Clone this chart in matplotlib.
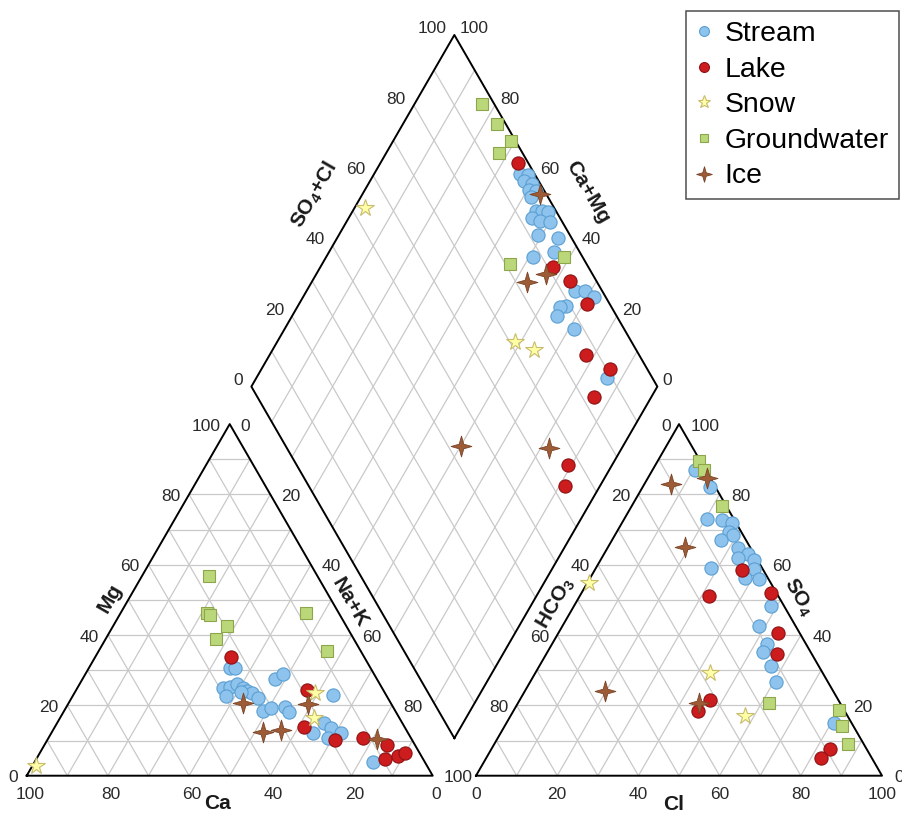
import numpy as np
import matplotlib.pyplot as plt
from matplotlib.path import Path
from matplotlib.lines import Line2D

plt.rcParams['font.family'] = ['Liberation Sans', 'DejaVu Sans']
plt.rcParams['mathtext.fontset'] = 'custom'
plt.rcParams['mathtext.rm'] = 'Liberation Sans'
plt.rcParams['mathtext.bf'] = 'Liberation Sans:bold'

# ---- data (percent) ----
# cation triangle: Ca, Mg (Na+K = rest)
stream_ca = [34.5, 33.4, 39.1, 37.2, 35.3, 34.2, 33.8, 32.7, 32.0, 39.6, 35.3, 25.2,
             22.4, 32.7, 30.2, 26.6, 26.4, 13.0, 19.4, 18.1, 16.6, 23.4, 12.6, 20.4]
stream_mg = [30.7, 30.5, 25.0, 25.3, 26.0, 24.9, 24.1, 23.4, 22.2, 22.8, 23.9, 27.5,
             28.8, 18.4, 19.2, 19.6, 18.0, 23.0, 14.9, 13.7, 12.1, 12.1, 4.0, 10.6]
lake_ca = [32.9, 18.7, 24.7, 19.0, 11.9, 6.9, 9.5, 5.6, 3.5]
lake_mg = [33.8, 24.5, 13.9, 10.1, 10.6, 8.7, 4.7, 5.7, 6.4]
snow_ca = [96.3, 17.1, 21.1]
snow_mg = [2.8, 23.6, 16.3]
gw_ca = [26.7, 32.4, 31.9, 29.2, 34.0, 8.2, 8.4]
gw_mg = [56.8, 46.4, 45.7, 42.7, 38.8, 46.2, 35.5]
ice_ca = [36.4, 35.6, 30.8, 20.5, 8.5]
ice_mg = [20.6, 12.3, 13.0, 20.4, 10.3]

# anion triangle: Cl, SO4 (HCO3 = rest)
stream_cl = [10.4, 16.6, 20.4, 24.4, 27.1, 27.7, 29.0, 26.8, 32.0, 35.4, 33.6, 37.7,
             38.9, 38.1, 41.7, 28.3, 48.4, 48.3, 53.0, 53.1, 57.1, 60.7, 80.6]
stream_so4 = [86.9, 82.0, 73.1, 72.6, 71.9, 69.3, 68.4, 67.0, 64.9, 63.0, 62.0, 61.3,
              58.9, 56.3, 56.0, 59.2, 48.4, 42.7, 37.5, 35.1, 31.3, 26.6, 14.9]
lake_cl = [36.4, 31.8, 46.6, 54.2, 56.9, 46.9, 45.5, 83.5, 82.4]
lake_so4 = [58.4, 51.1, 51.9, 40.6, 34.7, 21.4, 18.5, 7.6, 5.0]
snow_cl = [0.4, 43.0, 57.8]
snow_so4 = [54.8, 29.2, 17.1]
gw_cl = [10.1, 12.6, 22.3, 61.9, 80.1, 83.1, 87.2]
gw_so4 = [89.5, 86.9, 76.6, 20.6, 18.7, 14.2, 9.0]
ice_cl = [14.6, 6.5, 18.8, 19.6, 44.5]
ice_so4 = [84.8, 82.9, 65.1, 24.2, 20.6]

# diamond: SO4+Cl, Ca+Mg
stream_an = [96.4, 98.3, 96.4, 98.0, 96.3, 97.8, 95.7, 94.9, 96.5, 97.9, 93.1, 94.8, 97.0,
             92.2, 96.8, 93.7, 87.7, 93.4, 95.8, 97.2, 89.0, 87.2, 85.3, 87.5, 88.7]
stream_cat = [64.2, 61.9, 62.1, 59.7, 59.6, 57.8, 58.1, 54.9, 53.3, 51.7, 54.8, 52.4, 49.7,
              50.9, 45.5, 44.7, 49.1, 33.8, 31.4, 28.2, 34.0, 35.4, 34.7, 28.8, 13.7]
lake_an = [97.5, 91.2, 93.5, 94.3, 87.0, 90.8, 83.0, 67.0, 63.0]
lake_cat = [66.0, 42.7, 36.4, 29.1, 22.0, 14.1, 14.0, 10.8, 8.7]
snow_an = [53.4, 71.2, 74.8]
snow_cat = [97.5, 41.5, 35.6]
gw_an = [96.9, 97.8, 98.8, 94.3, 81.1, 95.3]
gw_cat = [83.5, 76.9, 71.0, 72.2, 53.7, 41.5]
ice_an = [98.6, 82.8, 88.4, 43.2, 64.4]
ice_cat = [56.2, 46.9, 43.5, 39.9, 18.0]

ticks = [0, 20, 40, 60, 80, 100]

H = np.sqrt(3) / 2
G = 0.1067  # gap between the two triangles (triangle side = 1)


def cation_xy(ca, mg):
    ca = np.asarray(ca) / 100
    mg = np.asarray(mg) / 100
    na = 1 - ca - mg
    return na + mg / 2, mg * H


def anion_xy(cl, so4):
    cl = np.asarray(cl) / 100
    so4 = np.asarray(so4) / 100
    return 1 + G + cl + so4 / 2, so4 * H


def diamond_xy(an, cat):
    an = np.asarray(an) / 100
    cat = np.asarray(cat) / 100
    return 1 + G / 2 + (an - cat) / 2, G * H + (an + cat) * H


fig = plt.figure(figsize=(9.02, 8.14), dpi=100)
ax = fig.add_axes([0, 0, 1, 1])
ax.set_xlim(-26.7 / 406, (902 - 26.7) / 406)
ax.set_ylim((775.7 - 814) / 406, 775.7 / 406)
ax.set_aspect('equal')
ax.axis('off')

grid_kw = dict(color='#c9c9c9', lw=0.9, zorder=1)
edge_kw = dict(color='black', lw=1.4, zorder=2)

# triangles
for x0 in (0, 1 + G):
    for k in range(1, 10):
        f = k / 10
        ax.plot([x0 + f / 2, x0 + 1 - f / 2], [f * H, f * H], **grid_kw)
        ax.plot([x0 + f, x0 + 0.5 + f / 2], [0, (1 - f) * H], **grid_kw)
        ax.plot([x0 + f, x0 + f / 2], [0, f * H], **grid_kw)
    ax.plot([x0, x0 + 1, x0 + 0.5, x0], [0, 0, H, 0], **edge_kw)

# diamond
bx, by = 1 + G / 2, G * H
for k in range(1, 10):
    f = k / 10
    ax.plot([bx + f / 2, bx + f / 2 - 0.5], [by + f * H, by + f * H + H], **grid_kw)
    ax.plot([bx - f / 2, bx - f / 2 + 0.5], [by + f * H, by + f * H + H], **grid_kw)
ax.plot([bx, bx - 0.5, bx, bx + 0.5, bx], [by, by + H, by + 2 * H, by + H, by], **edge_kw)


def tick(x, y, s, dx, dy, ha):
    ax.annotate(s, (x, y), xytext=(dx, dy), textcoords='offset pixels',
                ha=ha, va='center', fontsize=12.5, color='#2a2a2a')


def title(x, y, s, dx, dy, rot):
    ax.annotate(s, (x, y), xytext=(dx, dy), textcoords='offset pixels',
                ha='center', va='center', fontsize=15, fontweight='bold',
                rotation=rot, rotation_mode='anchor', color='#1a1a1a')


x1 = 1 + G
for v in ticks:
    f = v / 100
    tick(f / 2, f * H, str(v), -9, -2, 'right')                    # Mg
    tick(1 - f, 0, str(v), 3, -19, 'center')                       # Ca
    tick(0.5 + f / 2, (1 - f) * H, str(v), 11, -2, 'left')         # Na+K
    if v < 100:
        tick(x1 + 0.5 - f / 2, (1 - f) * H, str(v), -8, -2, 'right')  # HCO3
    tick(x1 + 1 - f / 2, f * H, str(v), 12, -2, 'left')            # SO4
    tick(x1 + f, 0, str(v), 0, -19, 'center')                      # Cl
    tick(bx - 0.5 + f / 2, by + H + f * H, str(v), -8, 6, 'right')  # SO4+Cl
    tick(bx + (1 - f) / 2, by + H + f * H, str(v), 5, 6, 'left')    # Ca+Mg

title(0.25, H / 2, 'Mg', -18, 2, 60)
title(0.75, H / 2, 'Na+K', 19, -3, -60)
title(0.5, 0, 'Ca', -12, -28, 0)
title(x1 + 0.25, H / 2, r'$\mathbf{HCO_3}$', -22, -3, 60)
title(x1 + 0.75, H / 2, r'$\mathbf{SO_4}$', 18, 3, -60)
title(x1 + 0.5, 0, 'Cl', -5, -29, 0)
title(bx - 0.25, by + 1.5 * H, r'$\mathbf{SO_4{+}Cl}$', -38, 16, 60)
title(bx + 0.25, by + 1.5 * H, 'Ca+Mg', 32, 19, -60)

# 4-point star for ice
r = 0.22
star4 = Path([(0, 1), (r, r), (1, 0), (r, -r), (0, -1), (-r, -r), (-1, 0), (-r, r), (0, 1)],
             closed=True)

styles = [
    ('Stream', 'o', 9.5, '#8dc3ec', '#5b9fd3', 0.8),
    ('Lake', 'o', 9.5, '#cc1c1e', '#8e1214', 0.8),
    ('Snow', '*', 13, '#ffffa6', '#c8bb6e', 0.8),
    ('Groundwater', 's', 8.5, '#bad77a', '#8ea54c', 0.8),
    ('Ice', star4, 15, '#9d5b36', '#7a4426', 0.6),
]
series = {
    'Stream': (stream_ca, stream_mg, stream_cl, stream_so4, stream_an, stream_cat),
    'Lake': (lake_ca, lake_mg, lake_cl, lake_so4, lake_an, lake_cat),
    'Snow': (snow_ca, snow_mg, snow_cl, snow_so4, snow_an, snow_cat),
    'Groundwater': (gw_ca, gw_mg, gw_cl, gw_so4, gw_an, gw_cat),
    'Ice': (ice_ca, ice_mg, ice_cl, ice_so4, ice_an, ice_cat),
}

handles = []
for i, (name, mk, ms, fc, ec, mew) in enumerate(styles):
    ca, mg, cl, so4, an, cat = series[name]
    for x, y in (cation_xy(ca, mg), anion_xy(cl, so4), diamond_xy(an, cat)):
        ax.plot(x, y, ls='none', marker=mk, ms=ms, mfc=fc, mec=ec, mew=mew, zorder=3 + i)
    handles.append(Line2D([], [], ls='none', marker=mk, ms=ms * 0.75, mfc=fc, mec=ec,
                          mew=mew, label=name))

leg = ax.legend(handles=handles, loc='upper right', bbox_to_anchor=(899 / 902, 1 - 11 / 814),
                borderaxespad=0, fontsize=20.4, frameon=True, fancybox=False,
                handlelength=0.6, handletextpad=0.42, labelspacing=0.34,
                borderpad=0.35)
leg.get_frame().set_edgecolor('#222222')
leg.get_frame().set_linewidth(1.1)

fig.savefig('out.png', dpi=100)
